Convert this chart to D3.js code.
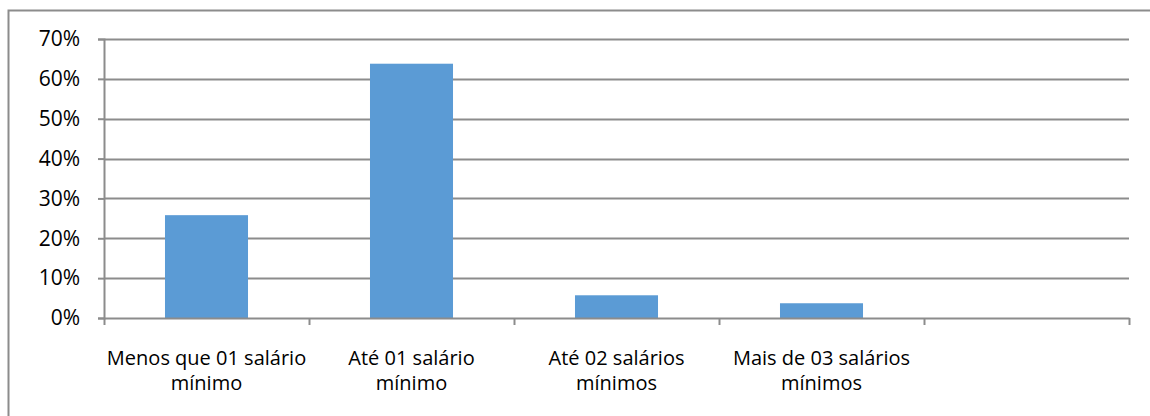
<!DOCTYPE html>
<html>
<head>
<meta charset="utf-8">
<script src="https://cdn.jsdelivr.net/npm/d3@7"></script>
<style>
  body { margin: 0; background: #fff; }
  text { font-family: "Open Sans", sans-serif; fill: #000; }
</style>
</head>
<body>
<div id="chart"></div>
<script>
var categories = [
  ["Menos que 01 salário", "mínimo"],
  ["Até 01 salário", "mínimo"],
  ["Até 02 salários", "mínimos"],
  ["Mais de 03 salários", "mínimos"],
  [""]
];
var values = [0.258, 0.638, 0.057, 0.037, null];
var yTicks = [0, 0.1, 0.2, 0.3, 0.4, 0.5, 0.6, 0.7];

var chartWidth = 1150, chartHeight = 416;
var margin = {top: 39, right: 21, bottom: 98, left: 104},
    width = chartWidth - margin.left - margin.right,
    height = chartHeight - margin.top - margin.bottom;

var svg = d3.select("#chart").append("svg")
    .attr("width", chartWidth)
    .attr("height", chartHeight);

// outer frame (only top and left visible in the crop)
svg.append("path")
    .attr("d", "M8.5,416 V10.5 H1150")
    .attr("fill", "none")
    .attr("stroke", "#8c8c8c")
    .attr("stroke-width", 2);

var g = svg.append("g")
    .attr("transform", "translate(" + margin.left + "," + margin.top + ")");

var x = d3.scaleBand()
    .domain(d3.range(categories.length))
    .range([0, width])
    .paddingInner(0.595)
    .paddingOuter(0.2975);

var xTicks = d3.scaleLinear().domain([0, categories.length]).range([0, width]);

var y = d3.scaleLinear().domain([0, 0.7]).range([height, 0]);

// gridlines
g.selectAll(".grid")
  .data(yTicks.slice(1))
  .enter().append("line")
    .attr("class", "grid")
    .attr("x1", 0)
    .attr("x2", width)
    .attr("y1", function(d){ return Math.round(y(d)) + 0.5; })
    .attr("y2", function(d){ return Math.round(y(d)) + 0.5; })
    .attr("stroke", "#8c8c8c")
    .attr("stroke-width", 2);

// bars
g.selectAll(".bar")
  .data(values.map(function(v, i){ return {i: i, v: v}; }).filter(function(d){ return d.v != null; }))
  .enter().append("rect")
    .attr("class", "bar")
    .attr("x", function(d){ return x(d.i); })
    .attr("width", x.bandwidth())
    .attr("y", function(d){ return y(d.v); })
    .attr("height", function(d){ return height - y(d.v); })
    .attr("fill", "#5b9bd5");

// y axis
var yAxis = g.append("g")
    .call(d3.axisLeft(y).tickValues(yTicks).tickFormat(d3.format(".0%")).tickSize(6).tickPadding(18));
yAxis.select(".domain").attr("stroke", "#8c8c8c").attr("stroke-width", 2);
yAxis.selectAll(".tick line").attr("stroke", "#8c8c8c").attr("stroke-width", 2);
yAxis.selectAll(".tick text").style("font-size", "21px").attr("font-family", null);

// x axis
var xAxis = g.append("g")
    .attr("transform", "translate(0," + height + ")")
    .call(d3.axisBottom(xTicks).ticks(categories.length).tickFormat("").tickSizeInner(7).tickSizeOuter(0));
xAxis.select(".domain").attr("stroke", "#8c8c8c").attr("stroke-width", 2);
xAxis.selectAll(".tick line").attr("stroke", "#8c8c8c").attr("stroke-width", 2);

// category labels
var labels = g.selectAll(".cat")
  .data(categories)
  .enter().append("text")
    .attr("class", "cat")
    .attr("text-anchor", "middle")
    .style("font-size", "20px")
    .attr("transform", function(d, i){
      return "translate(" + (xTicks(i) + xTicks(1) / 2) + "," + (height + 47) + ")";
    });

labels.selectAll("tspan")
  .data(function(d){ return d; })
  .enter().append("tspan")
    .attr("x", 0)
    .attr("dy", function(d, i){ return i === 0 ? 0 : 25; })
    .text(function(d){ return d; });
</script>
</body>
</html>
